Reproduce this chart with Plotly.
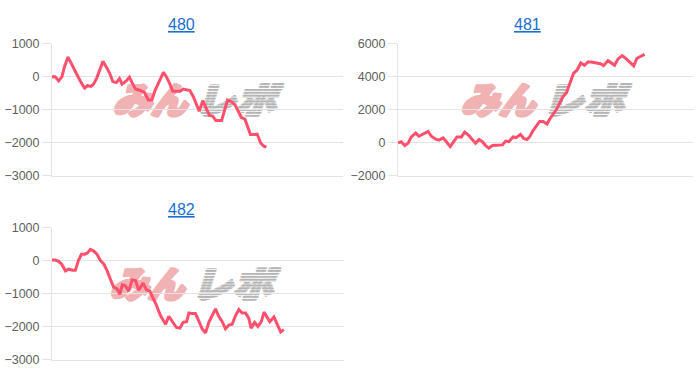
import base64
import plotly.graph_objects as go

W, H = 700, 384

titles = ["480", "481", "482"]

x480 = [0, 1.1, 2.3, 3.4, 4.3, 5.5, 6.9, 8.0, 9.7, 11.2,
        12.2, 13.4, 14.3, 15.4, 16.6, 17.5, 18.6, 19.8, 20.9, 22.1,
        23.2, 24.1, 25.5, 26.6, 27.5, 28.7, 30.3, 31.7, 33.1, 34.3,
        35.4, 36.6, 37.4, 38.3, 39.2, 40.3, 41.5, 42.6, 44.0, 45.1,
        46.3, 47.4, 48.6, 49.7, 50.6, 51.8, 53.1, 54.1, 55.2, 56.3,
        57.1, 58.3, 60.3, 61.7, 62.9, 64.0, 65.1, 66.3, 68.2, 69.4,
        70.5, 71.7, 72.8, 73.7]
y480 = [0, 0, -125, 0, 310, 600, 360, 165, -125, -340,
        -270, -290, -220, -30, 260, 470, 310, 115, -145, -175,
        -50, -220, -125, -10, -175, -370, -415, -465, -700, -700,
        -415, -175, -30, 135, 20, -175, -440, -440, -440, -370,
        -400, -415, -610, -850, -1045, -725, -1000, -1170, -1190, -1330,
        -1330, -1330, -705, -755, -850, -1045, -1235, -1285, -1750, -1750,
        -1740, -2010, -2105, -2135]

x481 = [0, 1.1, 2.3, 3.4, 4.5, 6.0, 7.1, 8.5, 10.2, 11.3,
        12.8, 13.9, 15.3, 16.4, 17.7, 18.9, 20.0, 21.5, 22.6, 23.7,
        25.2, 26.3, 27.5, 28.6, 29.7, 30.8, 32.0, 33.1, 34.2, 35.4,
        36.5, 37.6, 39.0, 40.1, 41.5, 42.6, 43.7, 44.6, 45.8, 46.9,
        48.0, 49.2, 50.5, 51.4, 52.5, 53.7, 54.8, 55.9, 57.1, 58.2,
        59.5, 60.7, 62.0, 63.2, 64.4, 65.5, 67.2, 68.6, 69.7, 71.2,
        72.3, 73.4, 74.6, 76.0, 77.4, 78.8, 79.9, 81.0, 82.1, 83.6]
y481 = [0, 60, -175, -40, 350, 585, 390, 510, 680, 390,
        215, 155, 290, 60, -235, 60, 350, 350, 645, 490,
        155, -40, 195, 60, -175, -330, -175, -175, -135, -135,
        100, 60, 350, 310, 510, 255, 195, 350, 740, 1035,
        1290, 1290, 1130, 1425, 1715, 2010, 2400, 2790, 3025, 3570,
        4215, 4410, 4840, 4700, 4900, 4900, 4840, 4800, 4680, 4995,
        4840, 4700, 5090, 5290, 5090, 4840, 4665, 5130, 5230, 5365]

x482 = [0, 1.1, 2.3, 3.4, 4.6, 5.7, 6.9, 8.0, 9.1, 10.1,
        11.2, 12.2, 13.1, 14.3, 15.4, 16.6, 17.7, 18.9, 20.0, 21.1,
        22.3, 23.2, 24.1, 25.1, 26.3, 27.4, 28.6, 29.7, 31.2, 32.3,
        33.5, 34.6, 35.8, 37.1, 38.9, 40.0, 41.1, 42.6, 43.8, 44.9,
        46.1, 46.9, 48.0, 49.1, 50.3, 51.4, 52.6, 53.7, 54.9, 56.0,
        57.1, 58.3, 59.4, 60.6, 61.7, 62.9, 64.0, 65.1, 66.3, 67.4,
        68.2, 69.4, 70.5, 71.7, 72.6, 73.7, 74.6, 76.0, 77.1, 78.3,
        79.4]
y482 = [20, 20, -20, -115, -310, -255, -290, -290, 20, 195,
        195, 235, 340, 290, 195, 0, -95, -310, -565, -800,
        -855, -1020, -730, -760, -925, -585, -605, -895, -680, -875,
        -925, -1120, -1360, -1655, -1925, -1685, -1830, -2025, -2045, -1870,
        -1850, -1585, -1605, -1605, -1830, -2065, -2190, -1870, -1655, -1460,
        -1685, -1850, -2065, -1950, -1925, -1655, -1480, -1585, -1585, -1750,
        -2045, -1870, -1995, -1850, -1560, -1730, -1850, -1705, -1900, -2160,
        -2090]

y_ranges = [[-3000, 1000], [-2000, 6000], [-3000, 1000]]
y_dticks = [1000, 2000, 1000]

# plot areas in pixels: (left, right, top, bottom)
areas = [(52, 343, 38.3, 175), (398, 693, 38.3, 175), (52, 344, 229, 366)]
title_pos = [(181, 17.7), (527, 17.7), (181, 210)]
wm_pos = [(113, 79), (461, 79), (110, 270)]

LINE = "rgb(255,80,110)"
GRID = "#e4e4e4"


def px_x(p):
    return p / W


def px_y(p):
    return 1 - p / H


series = [(x480, y480), (x481, y481), (x482, y482)]

fig = go.Figure()
layout = dict(
    width=W, height=H,
    margin=dict(l=0, r=0, t=0, b=0),
    paper_bgcolor="white", plot_bgcolor="rgba(0,0,0,0)",
    showlegend=False,
    font=dict(family="Liberation Sans, Arial, sans-serif", size=12, color="#666666"),
)

for i, ((xs, ys), (l, r, t, b)) in enumerate(zip(series, areas)):
    n = "" if i == 0 else str(i + 1)
    fig.add_trace(go.Scatter(
        x=xs, y=ys, mode="lines",
        line=dict(color=LINE, width=3),
        xaxis="x" + n, yaxis="y" + n, hoverinfo="skip",
    ))
    layout["xaxis" + n] = dict(
        domain=[px_x(l), px_x(r)], range=[0, 100], anchor="y" + n,
        showticklabels=False, showgrid=False, zeroline=False,
        showline=True, linecolor=GRID, linewidth=1, ticks="",
    )
    layout["yaxis" + n] = dict(
        domain=[px_y(b), px_y(t)], range=y_ranges[i], dtick=y_dticks[i],
        anchor="x" + n, showgrid=True, gridcolor=GRID, gridwidth=1,
        zeroline=False, showline=True, linecolor=GRID, linewidth=1,
        ticks="outside", ticklen=9, tickcolor=GRID, tickwidth=1,
        tickfont=dict(size=12.5, color="#5f5f5f"),
    )

annotations = []
for (tx, ty), ttl in zip(title_pos, titles):
    annotations.append(dict(
        x=px_x(tx), y=px_y(ty), xref="paper", yref="paper",
        text="<u>" + ttl + "</u>", showarrow=False,
        font=dict(family="Liberation Sans, Arial, sans-serif", size=16, color="#1a6fd0"),
        xanchor="center", yanchor="middle",
    ))
layout["annotations"] = annotations

# watermark logo (decoration)
svg = (
    "<svg xmlns='http://www.w3.org/2000/svg' width='172' height='36' viewBox='0 0 172 36'>"
    "<defs><pattern id='st' width='4' height='3' patternUnits='userSpaceOnUse'>"
    "<rect width='4' height='2' fill='#b5b5b5'/></pattern></defs>"
    "<g transform='skewX(-16)' font-family='Noto Sans CJK JP' font-weight='900' font-size='38'"
    " stroke-linejoin='round'>"
    "<g fill='#f0b2b2' stroke='#f0b2b2' stroke-width='3.5'>"
    "<text x='9' y='32' textLength='38' lengthAdjust='spacingAndGlyphs'>み</text>"
    "<text x='47' y='32' textLength='36' lengthAdjust='spacingAndGlyphs'>ん</text>"
    "</g>"
    "<g fill='url(#st)' stroke='url(#st)' stroke-width='3.5'>"
    "<text x='91' y='32' textLength='40' lengthAdjust='spacingAndGlyphs'>レ</text>"
    "<text x='132' y='32' textLength='40' lengthAdjust='spacingAndGlyphs'>ポ</text>"
    "</g>"
    "</g></svg>"
)
src = "data:image/svg+xml;base64," + base64.b64encode(svg.encode("utf-8")).decode("ascii")
images = []
for (wx, wy) in wm_pos:
    images.append(dict(
        source=src, xref="paper", yref="paper",
        x=px_x(wx), y=px_y(wy), sizex=172 / W, sizey=36 / H,
        xanchor="left", yanchor="top", sizing="stretch", layer="below",
    ))
layout["images"] = images

fig.update_layout(**layout)
fig.write_html("out.html")
